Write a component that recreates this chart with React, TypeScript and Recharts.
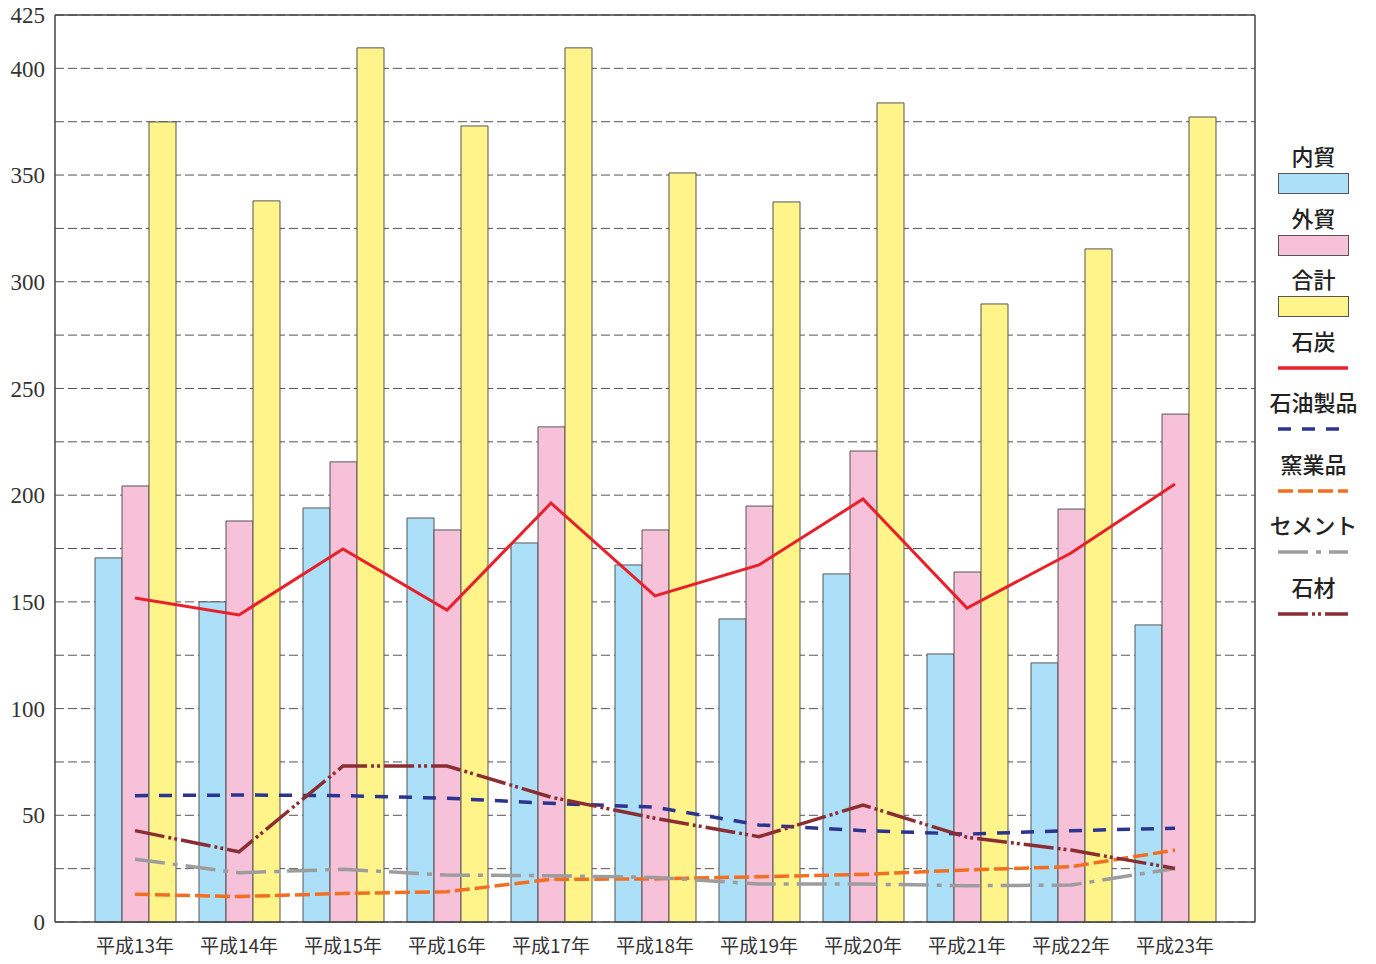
import {
  ComposedChart,
  Bar,
  Line,
  XAxis,
  YAxis,
  CartesianGrid,
} from "recharts";

const YEARS = [
  "平成13年", "平成14年", "平成15年", "平成16年", "平成17年", "平成18年",
  "平成19年", "平成20年", "平成21年", "平成22年", "平成23年",
];

// bars
const DOMESTIC = [170.6, 150.0, 194.0, 189.3, 177.6, 167.3, 142.0, 163.1, 125.6, 121.4, 139.2];
const FOREIGN = [204.3, 187.9, 215.6, 183.7, 232.0, 183.7, 194.9, 220.7, 164.0, 193.5, 238.0];
const TOTAL = [374.9, 337.9, 409.6, 373.0, 409.6, 351.0, 337.4, 383.8, 289.6, 315.4, 377.2];

// lines
const COAL = [151.8, 143.9, 174.8, 146.2, 196.3, 152.8, 167.3, 198.2, 147.1, 172.9, 205.2];
const PETROLEUM = [59.2, 59.5, 59.2, 58.0, 55.6, 53.8, 45.5, 42.8, 41.2, 42.8, 43.9];
const CERAMICS = [13.0, 11.9, 13.4, 14.2, 20.0, 20.2, 21.2, 22.3, 24.4, 25.9, 33.7];
const CEMENT = [29.4, 23.1, 24.7, 22.0, 21.7, 20.9, 17.8, 17.8, 17.0, 17.3, 25.1];
const STONE = [42.8, 32.9, 73.1, 73.1, 58.5, 48.6, 40.0, 54.8, 39.7, 33.7, 25.1];

const Y_TICKS = [0, 25, 50, 75, 100, 125, 150, 175, 200, 225, 250, 275, 300, 325, 350, 375, 400, 425];

const BAR_SERIES = [
  { key: "domestic", name: "内貿", color: "#abe0f8" },
  { key: "foreign", name: "外貿", color: "#f6c1d9" },
  { key: "total", name: "合計", color: "#fff48a" },
];

const LINE_SERIES = [
  { key: "coal", name: "石炭", color: "#e8202a", dash: undefined as string | undefined },
  { key: "petroleum", name: "石油製品", color: "#2b3590", dash: "13 11" },
  { key: "ceramics", name: "窯業品", color: "#f26f21", dash: "15 5" },
  { key: "cement", name: "セメント", color: "#9d9d9d", dash: "30 8 5 8" },
  { key: "stone", name: "石材", color: "#8b2e33", dash: "30 4 3 3 3 4" },
];

const chartData = YEARS.map((year, i) => ({
  year,
  domestic: DOMESTIC[i],
  foreign: FOREIGN[i],
  total: TOTAL[i],
  coal: COAL[i],
  petroleum: PETROLEUM[i],
  ceramics: CERAMICS[i],
  cement: CEMENT[i],
  stone: STONE[i],
}));

const FRAME = "#444";

function LegendBox() {
  const items = [
    ...BAR_SERIES.map((s) => ({ ...s, kind: "bar", dash: undefined as string | undefined })),
    ...LINE_SERIES.map((s) => ({ ...s, kind: "line" })),
  ];
  return (
    <div
      style={{
        position: "absolute",
        left: 1253,
        top: 142,
        width: 121,
        fontFamily: "'Noto Sans CJK JP', 'Noto Sans', sans-serif",
        fontSize: 22,
        fontWeight: 500,
        color: "#222",
      }}
    >
      {items.map((it) => (
        <div key={it.key} style={{ height: 61.5, textAlign: "center" }}>
          <div style={{ height: 26, lineHeight: "26px", whiteSpace: "nowrap" }}>{it.name}</div>
          <svg width={121} height={24} style={{ display: "block", marginTop: 5 }}>
            {it.kind === "bar" ? (
              <rect x={25.5} y={0.5} width={70} height={20} fill={it.color} stroke="#555" />
            ) : (
              <line
                x1={25}
                x2={95}
                y1={10}
                y2={10}
                stroke={it.color}
                strokeWidth={3.5}
                strokeDasharray={it.dash}
              />
            )}
          </svg>
        </div>
      ))}
    </div>
  );
}

export default function App() {
  return (
    <div style={{ position: "absolute", left: 0, top: 0, width: 1376, height: 964, background: "#fff" }}>
      <ComposedChart
        width={1376}
        height={964}
        data={chartData}
        margin={{ top: 14, right: 120, bottom: 12, left: 0 }}
        barGap={0}
        barCategoryGap={12}
      >
        <CartesianGrid
          vertical={false}
          stroke="#555"
          strokeDasharray="9 4"
          strokeWidth={1}
        />
        <XAxis
          dataKey="year"
          padding={{ left: 28, right: 28 }}
          height={30}
          tickLine={false}
          tickSize={0}
          tickMargin={18}
          axisLine={{ stroke: FRAME, strokeWidth: 1.5 }}
          tick={{ fontSize: 19, fill: "#333", fontFamily: "'Noto Sans CJK JP', sans-serif" }}
          interval={0}
        />
        <XAxis
          xAxisId="top"
          dataKey="year"
          orientation="top"
          height={1}
          tick={false}
          tickLine={false}
          axisLine={{ stroke: FRAME, strokeWidth: 1.5 }}
        />
        <YAxis
          domain={[0, 425]}
          ticks={Y_TICKS}
          interval={0}
          width={55}
          tickLine={false}
          tickSize={0}
          tickMargin={10}
          axisLine={{ stroke: FRAME, strokeWidth: 1.5 }}
          tickFormatter={(v: number) => (v % 50 === 0 || v === 425 ? String(v) : "")}
          tick={{ fontSize: 23, fill: "#333", fontFamily: "'Liberation Serif', 'DejaVu Serif', serif" }}
        />
        <YAxis
          yAxisId="right"
          orientation="right"
          type="number"
          domain={[0, 425]}
          width={1}
          tick={false}
          tickLine={false}
          axisLine={{ stroke: FRAME, strokeWidth: 1.5 }}
        />
        {BAR_SERIES.map((s) => (
          <Bar
            key={s.key}
            dataKey={s.key}
            name={s.name}
            fill={s.color}
            stroke="#555"
            strokeWidth={1}
            isAnimationActive={false}
          />
        ))}
        {LINE_SERIES.map((s) => (
          <Line
            key={s.key}
            type="linear"
            dataKey={s.key}
            name={s.name}
            stroke={s.color}
            strokeWidth={s.key === "coal" ? 3 : 3.5}
            strokeDasharray={s.dash}
            dot={false}
            activeDot={false}
            isAnimationActive={false}
          />
        ))}
        {/* invisible series so the frame axes (top / right) get a scale */}
        <Line
          xAxisId="top"
          yAxisId="right"
          dataKey="total"
          stroke="none"
          dot={false}
          activeDot={false}
          legendType="none"
          isAnimationActive={false}
        />
      </ComposedChart>
      <LegendBox />
    </div>
  );
}
